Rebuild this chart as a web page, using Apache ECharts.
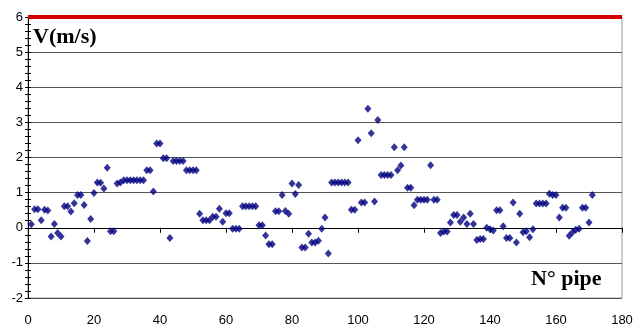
<!DOCTYPE html>
<html>
<head>
<meta charset="utf-8">
<script src="https://cdn.jsdelivr.net/npm/echarts@6/dist/echarts.min.js"></script>
<style>
  html, body { margin: 0; padding: 0; background: #fff; }
  #chart { width: 635px; height: 328px; }
</style>
</head>
<body>
<div id="chart"></div>
<script>
// velocity (m/s) for pipes 1..171
const velocity = [
  0.10, 0.53, 0.53, 0.21, 0.51, 0.49, -0.25, 0.11, -0.15, -0.25,
  0.61, 0.61, 0.46, 0.70, 0.93, 0.93, 0.65, -0.38, 0.25, 0.99,
  1.29, 1.28, 1.12, 1.71, -0.10, -0.10, 1.26, 1.29, 1.35, 1.35,
  1.35, 1.35, 1.35, 1.35, 1.35, 1.64, 1.64, 1.03, 2.40, 2.40,
  1.98, 1.98, -0.29, 1.90, 1.90, 1.90, 1.90, 1.64, 1.64, 1.64,
  1.64, 0.40, 0.21, 0.21, 0.21, 0.31, 0.31, 0.54, 0.17, 0.41,
  0.41, -0.03, -0.03, -0.03, 0.61, 0.61, 0.61, 0.61, 0.61, 0.07,
  0.07, -0.22, -0.47, -0.47, 0.47, 0.47, 0.93, 0.48, 0.40, 1.26,
  0.96, 1.22, -0.56, -0.56, -0.17, -0.42, -0.42, -0.37, -0.03, 0.29,
  -0.73, 1.29, 1.29, 1.29, 1.29, 1.29, 1.29, 0.51, 0.51, 2.49,
  0.72, 0.72, 3.39, 2.69, 0.75, 3.07, 1.50, 1.50, 1.50, 1.50,
  2.29, 1.64, 1.77, 2.29, 1.14, 1.14, 0.64, 0.80, 0.80, 0.80,
  0.80, 1.78, 0.80, 0.80, -0.15, -0.11, -0.11, 0.15, 0.36, 0.36,
  0.17, 0.29, 0.11, 0.40, 0.11, -0.35, -0.32, -0.32, 0.00, -0.04,
  -0.08, 0.50, 0.50, 0.04, -0.29, -0.29, 0.72, -0.42, 0.40, -0.13,
  -0.10, -0.27, -0.04, 0.69, 0.69, 0.69, 0.69, 0.97, 0.93, 0.93,
  0.29, 0.57, 0.57, -0.23, -0.13, -0.06, -0.03, 0.57, 0.57, 0.15,
  0.93
];
const limitVelocity = 6;
const xTicks = [0, 180, 20];   // min, max, step
const yTicks = [-2, 6, 1];

const labelFont = { fontFamily: 'Liberation Sans, Arial, sans-serif', fontSize: 13, color: '#000' };
const titleFont = 'bold 22px "Liberation Serif", "Times New Roman", serif';

const points = velocity.map((v, i) => [i + 1, v]);

const chart = echarts.init(document.getElementById('chart'), null, { renderer: 'canvas' });
chart.setOption({
  animation: false,
  backgroundColor: '#fff',
  grid: {
    left: 28, right: 13, top: 17, bottom: 30,
    show: true, borderColor: '#999', borderWidth: 1,
    outerBoundsMode: 'none'
  },
  xAxis: [
    {
      type: 'value', min: xTicks[0], max: xTicks[1], interval: xTicks[2],
      position: 'bottom',
      axisLine: { show: false, onZero: false },
      axisTick: { show: false },
      splitLine: { show: false },
      axisLabel: { ...labelFont, margin: 16 }
    },
    {
      // the axis line drawn through y = 0
      type: 'value', min: xTicks[0], max: xTicks[1], interval: xTicks[2],
      position: 'top',
      axisLine: { show: true, onZero: true, lineStyle: { color: '#000', width: 1 } },
      axisTick: { show: true, inside: true, length: 5, lineStyle: { color: '#000' } },
      axisLabel: { show: false },
      splitLine: { show: false }
    }
  ],
  yAxis: [
    {
      type: 'value', min: yTicks[0], max: yTicks[1], interval: yTicks[2],
      position: 'left',
      axisLine: { show: true, onZero: false, lineStyle: { color: '#000' } },
      axisTick: { show: true, length: 3, lineStyle: { color: '#000' } },
      minorTick: { show: true, splitNumber: 5, length: 3, lineStyle: { color: '#000' } },
      splitLine: { show: true, lineStyle: { color: '#555', width: 1 } },
      axisLabel: { ...labelFont, margin: 5 }
    },
    {
      // inner half of the crossing tick marks
      type: 'value', min: yTicks[0], max: yTicks[1], interval: yTicks[2],
      position: 'right', offset: -594,
      axisLine: { show: false, onZero: false },
      axisTick: { show: true, length: 3, lineStyle: { color: '#000' } },
      minorTick: { show: true, splitNumber: 5, length: 3, lineStyle: { color: '#000' } },
      splitLine: { show: false },
      axisLabel: { show: false }
    }
  ],
  graphic: [
    { type: 'text', left: 33, top: 26, style: { text: 'V(m/s)', font: titleFont, fill: '#000' } },
    { type: 'text', left: 531, top: 268, style: { text: 'N° pipe', font: titleFont, fill: '#000' } }
  ],
  series: [
    {
      type: 'scatter',
      xAxisIndex: 0, yAxisIndex: 0,
      data: points,
      symbol: 'diamond',
      symbolSize: [7, 8],
      itemStyle: { color: '#000080' },
      markLine: {
        silent: true,
        symbol: 'none',
        label: { show: false },
        lineStyle: { color: '#d00000', width: 4, type: 'solid' },
        data: [{ yAxis: limitVelocity }]
      },
      z: 3
    }
  ]
});
</script>
</body>
</html>
